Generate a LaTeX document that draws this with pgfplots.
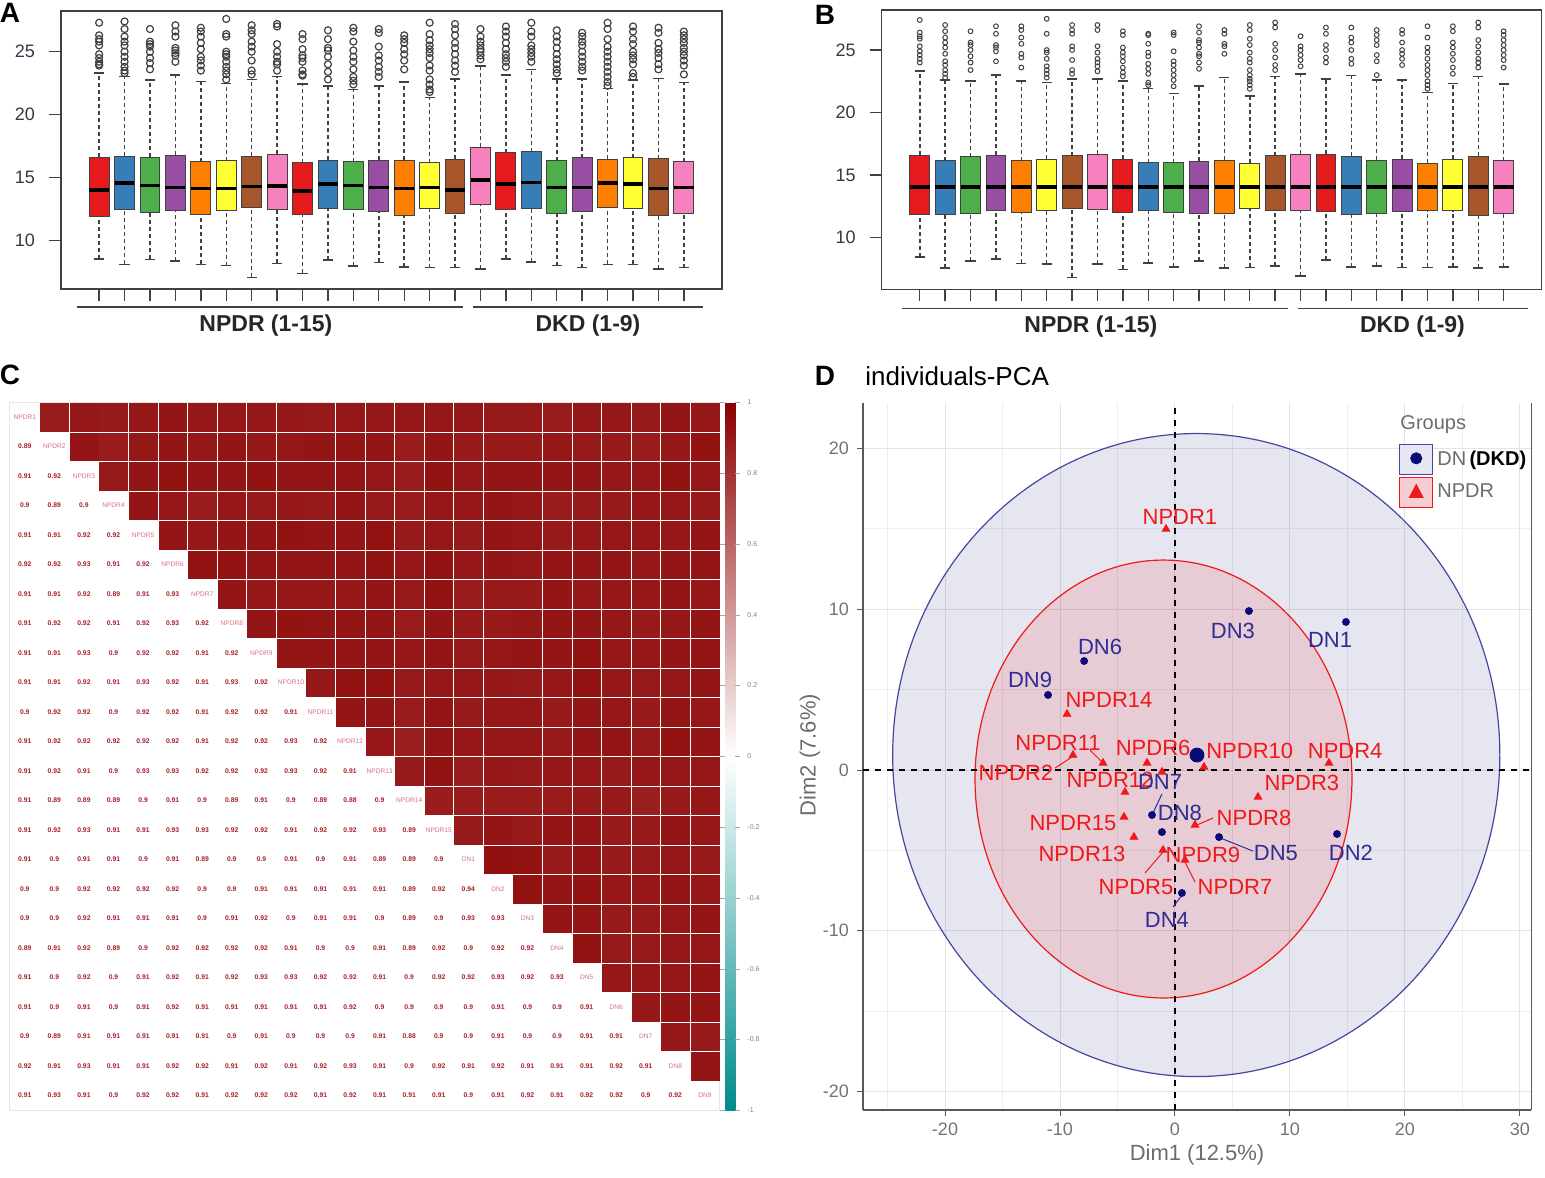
\documentclass[border=0pt]{standalone}
\usepackage{fontspec}
\setmainfont{Liberation Sans}
\usepackage{pgfplots}
\usepackage{pgfplotstable}
\pgfplotsset{compat=1.18}
\usepgfplotslibrary{statistics}

\definecolor{cR}{HTML}{E41A1C}
\definecolor{cB}{HTML}{377EB8}
\definecolor{cG}{HTML}{4DAF4A}
\definecolor{cP}{HTML}{984EA3}
\definecolor{cO}{HTML}{FF7F00}
\definecolor{cY}{HTML}{FFFF33}
\definecolor{cBr}{HTML}{A65628}
\definecolor{cPk}{HTML}{F781BF}
\definecolor{bxgray}{RGB}{65,65,65}
\definecolor{tkgray}{RGB}{55,55,70}
\definecolor{dnnavy}{RGB}{10,10,120}
\definecolor{dnlab}{RGB}{45,45,150}
\definecolor{dnbord}{RGB}{70,70,160}
\definecolor{dnfill}{RGB}{230,230,243}
\definecolor{npred}{RGB}{240,25,25}
\definecolor{npfill}{RGB}{247,205,212}
\definecolor{cellred}{RGB}{170,30,40}
\definecolor{diagpink}{RGB}{215,110,130}
\definecolor{gridc}{RGB}{225,232,236}
\definecolor{gmaj}{RGB}{228,228,228}
\definecolor{gmin}{RGB}{238,238,238}

\pgfplotsset{
  rbox/.style={
    scale only axis, anchor=north west,
    xmin=-0.5, xmax=25.5,
    xtick={1,...,24}, xticklabels={},
    ytick={10,15,20,25},
    tick align=outside, xtick pos=left, ytick pos=left,
    major tick length=6pt,
    axis line style={bxgray, line width=0.7pt},
    tick style={bxgray, line width=0.7pt},
    yticklabel style={font=\fontsize{9}{10}\selectfont, text=tkgray, xshift=-3.5pt},
    /pgf/number format/assume math mode=true,
    clip=false,
    boxplot/draw direction=y,
    boxplot/box extend=0.78,
    boxplot/whisker extend=0.4,
    boxplot/every box/.style={draw=bxgray, line width=0.5pt},
    boxplot/every median/.style={black, line width=1.8pt},
    boxplot/every whisker/.style={bxgray, line width=0.75pt},
    boxplot/draw/lower whisker/.code={%
      \draw[/pgfplots/boxplot/every whisker/.try, dash pattern=on 2pt off 1.5pt]
        (boxplot box cs:\pgfplotsboxplotvalue{lower whisker},0.5) --
        (boxplot box cs:\pgfplotsboxplotvalue{lower quartile},0.5);
      \draw[/pgfplots/boxplot/every whisker/.try]
        (boxplot whisker cs:\pgfplotsboxplotvalue{lower whisker},0) --
        (boxplot whisker cs:\pgfplotsboxplotvalue{lower whisker},1);
    },
    boxplot/draw/upper whisker/.code={%
      \draw[/pgfplots/boxplot/every whisker/.try, dash pattern=on 2pt off 1.5pt]
        (boxplot box cs:\pgfplotsboxplotvalue{upper quartile},0.5) --
        (boxplot box cs:\pgfplotsboxplotvalue{upper whisker},0.5);
      \draw[/pgfplots/boxplot/every whisker/.try]
        (boxplot whisker cs:\pgfplotsboxplotvalue{upper whisker},0) --
        (boxplot whisker cs:\pgfplotsboxplotvalue{upper whisker},1);
    },
  },
  bx/.style={boxplot/every box/.append style={fill=#1}},
  outA/.style={mark=o, mark size=1.75pt, mark options={draw=bxgray, line width=0.6pt, solid}},
  outB/.style={mark=o, mark size=1.2pt, mark options={draw=bxgray, line width=0.5pt, solid}},
}

\pgfplotstableread[row sep=\\]{
i j r\\
2 1 0.89\\
3 1 0.91\\ 3 2 0.92\\
4 1 0.9\\ 4 2 0.89\\ 4 3 0.9\\
5 1 0.91\\ 5 2 0.91\\ 5 3 0.92\\ 5 4 0.92\\
6 1 0.92\\ 6 2 0.92\\ 6 3 0.93\\ 6 4 0.91\\ 6 5 0.92\\
7 1 0.91\\ 7 2 0.91\\ 7 3 0.92\\ 7 4 0.89\\ 7 5 0.91\\ 7 6 0.93\\
8 1 0.91\\ 8 2 0.92\\ 8 3 0.92\\ 8 4 0.91\\ 8 5 0.92\\ 8 6 0.93\\ 8 7 0.92\\
9 1 0.91\\ 9 2 0.91\\ 9 3 0.93\\ 9 4 0.9\\ 9 5 0.92\\ 9 6 0.92\\ 9 7 0.91\\ 9 8 0.92\\
10 1 0.91\\ 10 2 0.91\\ 10 3 0.92\\ 10 4 0.91\\ 10 5 0.93\\ 10 6 0.92\\ 10 7 0.91\\ 10 8 0.93\\ 10 9 0.92\\
11 1 0.9\\ 11 2 0.92\\ 11 3 0.92\\ 11 4 0.9\\ 11 5 0.92\\ 11 6 0.92\\ 11 7 0.91\\ 11 8 0.92\\ 11 9 0.92\\ 11 10 0.91\\
12 1 0.91\\ 12 2 0.92\\ 12 3 0.92\\ 12 4 0.92\\ 12 5 0.92\\ 12 6 0.92\\ 12 7 0.91\\ 12 8 0.92\\ 12 9 0.92\\ 12 10 0.93\\ 12 11 0.92\\
13 1 0.91\\ 13 2 0.92\\ 13 3 0.91\\ 13 4 0.9\\ 13 5 0.93\\ 13 6 0.93\\ 13 7 0.92\\ 13 8 0.92\\ 13 9 0.92\\ 13 10 0.93\\ 13 11 0.92\\ 13 12 0.91\\
14 1 0.91\\ 14 2 0.89\\ 14 3 0.89\\ 14 4 0.89\\ 14 5 0.9\\ 14 6 0.91\\ 14 7 0.9\\ 14 8 0.89\\ 14 9 0.91\\ 14 10 0.9\\ 14 11 0.89\\ 14 12 0.88\\ 14 13 0.9\\
15 1 0.91\\ 15 2 0.92\\ 15 3 0.93\\ 15 4 0.91\\ 15 5 0.91\\ 15 6 0.93\\ 15 7 0.93\\ 15 8 0.92\\ 15 9 0.92\\ 15 10 0.91\\ 15 11 0.92\\ 15 12 0.92\\ 15 13 0.93\\ 15 14 0.89\\
16 1 0.91\\ 16 2 0.9\\ 16 3 0.91\\ 16 4 0.91\\ 16 5 0.9\\ 16 6 0.91\\ 16 7 0.89\\ 16 8 0.9\\ 16 9 0.9\\ 16 10 0.91\\ 16 11 0.9\\ 16 12 0.91\\ 16 13 0.89\\ 16 14 0.89\\ 16 15 0.9\\
17 1 0.9\\ 17 2 0.9\\ 17 3 0.92\\ 17 4 0.92\\ 17 5 0.92\\ 17 6 0.92\\ 17 7 0.9\\ 17 8 0.9\\ 17 9 0.91\\ 17 10 0.91\\ 17 11 0.91\\ 17 12 0.91\\ 17 13 0.91\\ 17 14 0.89\\ 17 15 0.92\\ 17 16 0.94\\
18 1 0.9\\ 18 2 0.9\\ 18 3 0.92\\ 18 4 0.91\\ 18 5 0.91\\ 18 6 0.91\\ 18 7 0.9\\ 18 8 0.91\\ 18 9 0.92\\ 18 10 0.9\\ 18 11 0.91\\ 18 12 0.91\\ 18 13 0.9\\ 18 14 0.89\\ 18 15 0.9\\ 18 16 0.93\\ 18 17 0.93\\
19 1 0.89\\ 19 2 0.91\\ 19 3 0.92\\ 19 4 0.89\\ 19 5 0.9\\ 19 6 0.92\\ 19 7 0.92\\ 19 8 0.92\\ 19 9 0.92\\ 19 10 0.91\\ 19 11 0.9\\ 19 12 0.9\\ 19 13 0.91\\ 19 14 0.89\\ 19 15 0.92\\ 19 16 0.9\\ 19 17 0.92\\ 19 18 0.92\\
20 1 0.91\\ 20 2 0.9\\ 20 3 0.92\\ 20 4 0.9\\ 20 5 0.91\\ 20 6 0.92\\ 20 7 0.91\\ 20 8 0.92\\ 20 9 0.93\\ 20 10 0.93\\ 20 11 0.92\\ 20 12 0.92\\ 20 13 0.91\\ 20 14 0.9\\ 20 15 0.92\\ 20 16 0.92\\ 20 17 0.93\\ 20 18 0.92\\ 20 19 0.93\\
21 1 0.91\\ 21 2 0.9\\ 21 3 0.91\\ 21 4 0.9\\ 21 5 0.91\\ 21 6 0.92\\ 21 7 0.91\\ 21 8 0.91\\ 21 9 0.91\\ 21 10 0.91\\ 21 11 0.91\\ 21 12 0.92\\ 21 13 0.9\\ 21 14 0.9\\ 21 15 0.9\\ 21 16 0.9\\ 21 17 0.91\\ 21 18 0.9\\ 21 19 0.9\\ 21 20 0.91\\
22 1 0.9\\ 22 2 0.89\\ 22 3 0.91\\ 22 4 0.91\\ 22 5 0.91\\ 22 6 0.91\\ 22 7 0.91\\ 22 8 0.9\\ 22 9 0.91\\ 22 10 0.9\\ 22 11 0.9\\ 22 12 0.9\\ 22 13 0.91\\ 22 14 0.88\\ 22 15 0.9\\ 22 16 0.9\\ 22 17 0.91\\ 22 18 0.9\\ 22 19 0.9\\ 22 20 0.91\\ 22 21 0.91\\
23 1 0.92\\ 23 2 0.91\\ 23 3 0.93\\ 23 4 0.91\\ 23 5 0.91\\ 23 6 0.92\\ 23 7 0.92\\ 23 8 0.91\\ 23 9 0.92\\ 23 10 0.91\\ 23 11 0.92\\ 23 12 0.93\\ 23 13 0.91\\ 23 14 0.9\\ 23 15 0.92\\ 23 16 0.91\\ 23 17 0.92\\ 23 18 0.91\\ 23 19 0.91\\ 23 20 0.91\\ 23 21 0.92\\ 23 22 0.91\\
24 1 0.91\\ 24 2 0.93\\ 24 3 0.91\\ 24 4 0.9\\ 24 5 0.92\\ 24 6 0.92\\ 24 7 0.91\\ 24 8 0.92\\ 24 9 0.92\\ 24 10 0.92\\ 24 11 0.91\\ 24 12 0.92\\ 24 13 0.91\\ 24 14 0.91\\ 24 15 0.91\\ 24 16 0.9\\ 24 17 0.91\\ 24 18 0.92\\ 24 19 0.91\\ 24 20 0.92\\ 24 21 0.92\\ 24 22 0.9\\ 24 23 0.92\\
}\corrtab

\pgfplotstableread[row sep=\\]{
k name\\
1 NPDR1\\ 2 NPDR2\\ 3 NPDR3\\ 4 NPDR4\\ 5 NPDR5\\ 6 NPDR6\\ 7 NPDR7\\ 8 NPDR8\\
9 NPDR9\\ 10 NPDR10\\ 11 NPDR11\\ 12 NPDR12\\ 13 NPDR13\\ 14 NPDR14\\ 15 NPDR15\\
16 DN1\\ 17 DN2\\ 18 DN3\\ 19 DN4\\ 20 DN5\\ 21 DN6\\ 22 DN7\\ 23 DN8\\ 24 DN9\\
}\diagtab

\begin{document}
\begin{tikzpicture}
\path[use as bounding box] (0,0) rectangle (772.5pt,-588.5pt);

% ---------------- Panel A ----------------
\begin{axis}[rbox, at={(30.5pt,-5.5pt)}, width=330.5pt, height=139pt, ymin=6.17, ymax=28.23]
\addplot[bx=cR, outA, boxplot prepared={draw position=1, median=14.02, lower quartile=11.96, upper quartile=16.62, lower whisker=8.57, upper whisker=23.33}] table[row sep=\\, y index=0]{data\\27.3\\26.3\\26.0\\25.8\\25.5\\24.8\\24.5\\24.2\\24.0\\23.9\\};
\addplot[bx=cB, outA, boxplot prepared={draw position=2, median=14.56, lower quartile=12.44, upper quartile=16.72, lower whisker=8.13, upper whisker=23.02}] table[row sep=\\, y index=0]{data\\27.4\\26.8\\26.2\\25.8\\25.5\\25.0\\24.6\\24.2\\23.8\\23.5\\23.3\\};
\addplot[bx=cG, outA, boxplot prepared={draw position=3, median=14.37, lower quartile=12.28, upper quartile=16.62, lower whisker=8.52, upper whisker=22.75}] table[row sep=\\, y index=0]{data\\26.8\\25.8\\25.6\\25.4\\25.0\\24.5\\24.1\\23.6\\};
\addplot[bx=cP, outA, boxplot prepared={draw position=4, median=14.24, lower quartile=12.36, upper quartile=16.8, lower whisker=8.41, upper whisker=23.15}] table[row sep=\\, y index=0]{data\\27.1\\26.6\\26.2\\25.3\\25.1\\24.9\\24.7\\24.2\\};
\addplot[bx=cO, outA, boxplot prepared={draw position=5, median=14.16, lower quartile=12.1, upper quartile=16.27, lower whisker=8.13, upper whisker=22.62}] table[row sep=\\, y index=0]{data\\26.9\\26.6\\26.2\\25.7\\25.2\\24.6\\24.3\\23.9\\23.5\\};
\addplot[bx=cY, outA, boxplot prepared={draw position=6, median=14.16, lower quartile=12.38, upper quartile=16.35, lower whisker=8.02, upper whisker=22.49}] table[row sep=\\, y index=0]{data\\27.6\\26.4\\26.2\\25.0\\24.8\\24.6\\24.2\\23.8\\23.5\\23.2\\22.8\\};
\addplot[bx=cBr, outA, boxplot prepared={draw position=7, median=14.29, lower quartile=12.65, upper quartile=16.72, lower whisker=7.1, upper whisker=22.81}] table[row sep=\\, y index=0]{data\\27.1\\26.7\\26.4\\25.8\\25.4\\25.0\\24.3\\23.5\\23.2\\};
\addplot[bx=cPk, outA, boxplot prepared={draw position=8, median=14.34, lower quartile=12.49, upper quartile=16.88, lower whisker=8.21, upper whisker=23.02}] table[row sep=\\, y index=0]{data\\27.2\\27.0\\25.6\\25.0\\24.6\\24.2\\24.0\\23.5\\};
\addplot[bx=cR, outA, boxplot prepared={draw position=9, median=13.97, lower quartile=12.12, upper quartile=16.19, lower whisker=7.41, upper whisker=22.44}] table[row sep=\\, y index=0]{data\\26.4\\26.0\\25.2\\24.7\\24.5\\24.2\\23.5\\23.2\\23.1\\};
\addplot[bx=cB, outA, boxplot prepared={draw position=10, median=14.48, lower quartile=12.52, upper quartile=16.4, lower whisker=8.47, upper whisker=22.28}] table[row sep=\\, y index=0]{data\\26.7\\26.0\\25.3\\25.1\\24.6\\24.0\\23.4\\22.8\\};
\addplot[bx=cG, outA, boxplot prepared={draw position=11, median=14.37, lower quartile=12.44, upper quartile=16.27, lower whisker=8.0, upper whisker=22.01}] table[row sep=\\, y index=0]{data\\26.9\\26.6\\25.8\\25.1\\24.6\\24.2\\23.6\\23.0\\22.7\\22.4\\};
\addplot[bx=cP, outA, boxplot prepared={draw position=12, median=14.24, lower quartile=12.3, upper quartile=16.4, lower whisker=8.29, upper whisker=22.28}] table[row sep=\\, y index=0]{data\\26.8\\26.5\\25.4\\24.7\\24.3\\23.8\\23.4\\23.0\\};
\addplot[bx=cO, outA, boxplot prepared={draw position=13, median=14.16, lower quartile=12.04, upper quartile=16.4, lower whisker=7.9, upper whisker=22.6}] table[row sep=\\, y index=0]{data\\26.3\\26.0\\25.7\\25.2\\24.8\\24.3\\23.6\\};
\addplot[bx=cY, outA, boxplot prepared={draw position=14, median=14.24, lower quartile=12.52, upper quartile=16.19, lower whisker=7.86, upper whisker=21.35}] table[row sep=\\, y index=0]{data\\27.3\\26.4\\25.9\\25.5\\25.2\\24.9\\24.5\\23.9\\23.5\\22.8\\22.4\\22.0\\21.8\\};
\addplot[bx=cBr, outA, boxplot prepared={draw position=15, median=14.02, lower quartile=12.17, upper quartile=16.46, lower whisker=7.86, upper whisker=22.83}] table[row sep=\\, y index=0]{data\\27.2\\26.8\\26.3\\25.7\\25.3\\24.8\\24.3\\23.9\\23.4\\};
\addplot[bx=cPk, outA, boxplot prepared={draw position=16, median=14.82, lower quartile=12.89, upper quartile=17.41, lower whisker=7.74, upper whisker=23.87}] table[row sep=\\, y index=0]{data\\26.8\\26.2\\25.8\\25.5\\25.2\\25.0\\24.7\\24.4\\};
\addplot[bx=cR, outA, boxplot prepared={draw position=17, median=14.48, lower quartile=12.49, upper quartile=16.98, lower whisker=8.55, upper whisker=23.15}] table[row sep=\\, y index=0]{data\\27.0\\26.6\\26.2\\25.7\\25.2\\24.8\\24.5\\24.2\\23.8\\};
\addplot[bx=cB, outA, boxplot prepared={draw position=18, median=14.63, lower quartile=12.57, upper quartile=17.06, lower whisker=8.33, upper whisker=23.6}] table[row sep=\\, y index=0]{data\\27.3\\26.6\\26.2\\25.5\\25.2\\24.9\\24.6\\24.2\\};
\addplot[bx=cG, outA, boxplot prepared={draw position=19, median=14.24, lower quartile=12.17, upper quartile=16.35, lower whisker=8.02, upper whisker=22.83}] table[row sep=\\, y index=0]{data\\26.7\\26.2\\25.8\\25.3\\24.8\\24.4\\24.0\\23.6\\23.3\\};
\addplot[bx=cP, outA, boxplot prepared={draw position=20, median=14.24, lower quartile=12.3, upper quartile=16.59, lower whisker=7.86, upper whisker=22.83}] table[row sep=\\, y index=0]{data\\26.5\\26.2\\25.8\\25.5\\25.0\\24.6\\24.2\\23.8\\23.5\\};
\addplot[bx=cO, outA, boxplot prepared={draw position=21, median=14.56, lower quartile=12.65, upper quartile=16.46, lower whisker=8.13, upper whisker=22.09}] table[row sep=\\, y index=0]{data\\27.3\\26.8\\26.0\\25.4\\25.0\\24.6\\24.2\\23.8\\23.4\\23.0\\22.6\\22.3\\};
\addplot[bx=cY, outA, boxplot prepared={draw position=22, median=14.48, lower quartile=12.52, upper quartile=16.59, lower whisker=8.13, upper whisker=22.75}] table[row sep=\\, y index=0]{data\\27.0\\26.6\\26.0\\25.6\\25.0\\24.7\\24.4\\24.0\\23.3\\23.0\\};
\addplot[bx=cBr, outA, boxplot prepared={draw position=23, median=14.16, lower quartile=12.04, upper quartile=16.49, lower whisker=7.74, upper whisker=22.89}] table[row sep=\\, y index=0]{data\\26.9\\26.5\\25.7\\25.2\\24.9\\24.5\\24.0\\23.6\\};
\addplot[bx=cPk, outA, boxplot prepared={draw position=24, median=14.24, lower quartile=12.17, upper quartile=16.27, lower whisker=7.86, upper whisker=22.54}] table[row sep=\\, y index=0]{data\\26.6\\26.3\\26.0\\25.7\\25.3\\25.0\\24.7\\24.3\\23.9\\23.2\\};
\draw[bxgray, line width=0.8pt] ([yshift=-8.85pt]axis cs:0.13,6.17) -- ([yshift=-8.85pt]axis cs:15.3,6.17);
\draw[bxgray, line width=0.8pt] ([yshift=-8.85pt]axis cs:15.7,6.17) -- ([yshift=-8.85pt]axis cs:24.74,6.17);
\node[font=\bfseries\fontsize{11.5}{12}\selectfont, text=black!85] at ([yshift=-18.5pt]axis cs:7.56,6.17) {NPDR (1-15)};
\node[font=\bfseries\fontsize{11.5}{12}\selectfont, text=black!85] at ([yshift=-18.5pt]axis cs:20.23,6.17) {DKD (1-9)};
\end{axis}

% ---------------- Panel B ----------------
\begin{axis}[rbox, at={(440.85pt,-5pt)}, width=330pt, height=139.65pt, ymin=5.88, ymax=28.2]
\addplot[bx=cR, outB, boxplot prepared={draw position=1, median=14.07, lower quartile=11.87, upper quartile=16.61, lower whisker=8.48, upper whisker=23.32}] table[row sep=\\, y index=0]{data\\27.4\\26.4\\26.1\\25.9\\25.3\\24.9\\24.6\\24.3\\24.0\\};
\addplot[bx=cB, outB, boxplot prepared={draw position=2, median=14.07, lower quartile=11.87, upper quartile=16.15, lower whisker=7.6, upper whisker=22.6}] table[row sep=\\, y index=0]{data\\27.0\\26.5\\26.0\\25.6\\25.2\\24.7\\24.1\\23.8\\23.4\\23.1\\22.8\\};
\addplot[bx=cG, outB, boxplot prepared={draw position=3, median=14.07, lower quartile=11.95, upper quartile=16.47, lower whisker=8.16, upper whisker=22.52}] table[row sep=\\, y index=0]{data\\26.5\\25.6\\25.4\\25.0\\24.5\\24.0\\23.4\\};
\addplot[bx=cP, outB, boxplot prepared={draw position=4, median=14.07, lower quartile=12.21, upper quartile=16.61, lower whisker=8.29, upper whisker=23.0}] table[row sep=\\, y index=0]{data\\26.9\\26.3\\25.4\\25.2\\24.9\\24.1\\};
\addplot[bx=cO, outB, boxplot prepared={draw position=5, median=14.07, lower quartile=12.03, upper quartile=16.15, lower whisker=7.95, upper whisker=22.52}] table[row sep=\\, y index=0]{data\\26.9\\26.6\\26.0\\25.5\\24.7\\24.4\\23.6\\};
\addplot[bx=cY, outB, boxplot prepared={draw position=6, median=14.07, lower quartile=12.21, upper quartile=16.29, lower whisker=7.9, upper whisker=22.42}] table[row sep=\\, y index=0]{data\\27.5\\26.3\\25.0\\24.8\\24.3\\23.7\\23.4\\23.1\\22.8\\};
\addplot[bx=cBr, outB, boxplot prepared={draw position=7, median=14.07, lower quartile=12.35, upper quartile=16.55, lower whisker=6.83, upper whisker=22.68}] table[row sep=\\, y index=0]{data\\27.0\\26.6\\26.3\\25.3\\25.0\\24.2\\23.4\\23.1\\};
\addplot[bx=cPk, outB, boxplot prepared={draw position=8, median=14.07, lower quartile=12.27, upper quartile=16.66, lower whisker=7.9, upper whisker=22.68}] table[row sep=\\, y index=0]{data\\27.0\\26.6\\25.3\\24.8\\24.3\\24.0\\23.7\\23.3\\};
\addplot[bx=cR, outB, boxplot prepared={draw position=9, median=14.07, lower quartile=12.03, upper quartile=16.29, lower whisker=7.47, upper whisker=22.52}] table[row sep=\\, y index=0]{data\\26.5\\26.2\\25.2\\24.8\\24.5\\24.1\\23.6\\23.2\\22.9\\};
\addplot[bx=cB, outB, boxplot prepared={draw position=10, median=14.07, lower quartile=12.21, upper quartile=16.0, lower whisker=8.0, upper whisker=21.94}] table[row sep=\\, y index=0]{data\\26.3\\26.2\\25.5\\24.8\\24.5\\23.9\\23.5\\23.1\\22.4\\22.2\\};
\addplot[bx=cG, outB, boxplot prepared={draw position=11, median=14.07, lower quartile=12.0, upper quartile=16.0, lower whisker=7.68, upper whisker=21.54}] table[row sep=\\, y index=0]{data\\26.4\\26.2\\24.9\\24.1\\23.8\\23.4\\23.0\\22.6\\22.1\\};
\addplot[bx=cP, outB, boxplot prepared={draw position=12, median=14.07, lower quartile=11.95, upper quartile=16.13, lower whisker=8.13, upper whisker=22.12}] table[row sep=\\, y index=0]{data\\26.9\\26.4\\25.8\\25.6\\25.2\\24.7\\24.5\\24.0\\23.5\\};
\addplot[bx=cO, outB, boxplot prepared={draw position=13, median=14.07, lower quartile=11.95, upper quartile=16.2, lower whisker=7.6, upper whisker=22.82}] table[row sep=\\, y index=0]{data\\26.6\\26.3\\25.5\\25.3\\24.7\\};
\addplot[bx=cY, outB, boxplot prepared={draw position=14, median=14.07, lower quartile=12.35, upper quartile=15.94, lower whisker=7.63, upper whisker=21.32}] table[row sep=\\, y index=0]{data\\27.0\\26.6\\25.9\\25.4\\24.8\\24.3\\24.0\\23.4\\23.0\\22.7\\22.5\\22.2\\21.9\\};
\addplot[bx=cBr, outB, boxplot prepared={draw position=15, median=14.07, lower quartile=12.16, upper quartile=16.55, lower whisker=7.76, upper whisker=22.87}] table[row sep=\\, y index=0]{data\\27.2\\26.8\\25.5\\25.0\\24.4\\23.8\\23.4\\};
\addplot[bx=cPk, outB, boxplot prepared={draw position=16, median=14.07, lower quartile=12.16, upper quartile=16.66, lower whisker=6.94, upper whisker=23.08}] table[row sep=\\, y index=0]{data\\26.1\\25.3\\25.0\\24.6\\24.2\\23.7\\};
\addplot[bx=cR, outB, boxplot prepared={draw position=17, median=14.07, lower quartile=12.08, upper quartile=16.66, lower whisker=8.21, upper whisker=22.68}] table[row sep=\\, y index=0]{data\\26.8\\26.3\\25.4\\25.0\\24.4\\24.0\\};
\addplot[bx=cB, outB, boxplot prepared={draw position=18, median=14.07, lower quartile=11.87, upper quartile=16.53, lower whisker=7.68, upper whisker=22.95}] table[row sep=\\, y index=0]{data\\26.8\\26.0\\25.6\\25.0\\24.3\\23.9\\};
\addplot[bx=cG, outB, boxplot prepared={draw position=19, median=14.07, lower quartile=11.95, upper quartile=16.2, lower whisker=7.76, upper whisker=22.6}] table[row sep=\\, y index=0]{data\\26.6\\26.2\\25.8\\25.4\\24.6\\24.1\\23.0\\};
\addplot[bx=cP, outB, boxplot prepared={draw position=20, median=14.07, lower quartile=12.08, upper quartile=16.29, lower whisker=7.63, upper whisker=22.6}] table[row sep=\\, y index=0]{data\\26.6\\26.3\\25.6\\25.0\\24.7\\24.3\\23.8\\};
\addplot[bx=cO, outB, boxplot prepared={draw position=21, median=14.07, lower quartile=12.16, upper quartile=15.94, lower whisker=7.63, upper whisker=21.62}] table[row sep=\\, y index=0]{data\\26.9\\26.0\\25.2\\24.8\\24.3\\23.8\\23.4\\23.0\\22.5\\22.2\\21.9\\};
\addplot[bx=cY, outB, boxplot prepared={draw position=22, median=14.07, lower quartile=12.16, upper quartile=16.26, lower whisker=7.68, upper whisker=22.34}] table[row sep=\\, y index=0]{data\\26.9\\26.5\\25.6\\25.2\\24.7\\24.2\\23.6\\23.1\\};
\addplot[bx=cBr, outB, boxplot prepared={draw position=23, median=14.07, lower quartile=11.81, upper quartile=16.53, lower whisker=7.6, upper whisker=22.87}] table[row sep=\\, y index=0]{data\\27.2\\26.8\\25.8\\25.3\\24.8\\24.3\\24.0\\23.6\\};
\addplot[bx=cPk, outB, boxplot prepared={draw position=24, median=14.07, lower quartile=11.95, upper quartile=16.15, lower whisker=7.68, upper whisker=22.28}] table[row sep=\\, y index=0]{data\\26.5\\26.2\\25.8\\25.4\\25.0\\24.6\\24.2\\23.6\\};
\draw[bxgray, line width=0.8pt] ([yshift=-9.5pt]axis cs:0.29,5.88) -- ([yshift=-9.5pt]axis cs:15.5,5.88);
\draw[bxgray, line width=0.8pt] ([yshift=-9.5pt]axis cs:15.91,5.88) -- ([yshift=-9.5pt]axis cs:24.95,5.88);
\node[font=\bfseries\fontsize{11.5}{12}\selectfont, text=black!85] at ([yshift=-18.6pt]axis cs:7.74,5.88) {NPDR (1-15)};
\node[font=\bfseries\fontsize{11.5}{12}\selectfont, text=black!85] at ([yshift=-18.6pt]axis cs:20.41,5.88) {DKD (1-9)};
\end{axis}

% ---------------- Panel C ----------------
\begin{axis}[at={(5pt,-201.15pt)}, anchor=north west, scale only axis,
  width=354.85pt, height=354pt,
  xmin=0.5, xmax=24.5, ymin=0.5, ymax=24.5, y dir=reverse,
  xtick=\empty, ytick=\empty,
  minor xtick={1.5,2.5,...,23.5}, minor ytick={1.5,2.5,...,23.5},
  minor tick length=0pt, xminorgrids=true, yminorgrids=true,
  minor grid style={draw=gridc, line width=0.5pt},
  axis line style={draw=gridc, line width=0.5pt},
  colormap={corr}{rgb255=(0,139,139) rgb255=(255,255,255) rgb255=(139,0,0)},
  point meta min=-1, point meta max=1,
  colorbar,
  colorbar shift/.style={xshift=2.6pt},
  colorbar style={
    width=5pt,
    ytick={-1,-0.8,-0.6,-0.4,-0.2,0,0.2,0.4,0.6,0.8,1},
    yticklabels={-1,-0.8,-0.6,-0.4,-0.2,0,0.2,0.4,0.6,0.8,1},
    yticklabel style={font=\fontsize{3.5}{4}\selectfont, text=gray},
    major tick length=2.5pt, tick style={gray!70},
    axis line style={draw=none}, tick align=outside,
  },
  clip=false,
]
\addplot[scatter, only marks, mark=square*, mark size=6.9pt,
  scatter/use mapped color={draw=mapped color, fill=mapped color},
  mark options={line width=0.2pt}, point meta=explicit]
  table[x=i, y=j, meta=r] {\corrtab};
\addplot[only marks, mark=*, mark size=0pt, mark options={draw=none, fill=none},
  point meta=explicit symbolic, nodes near coords,
  every node near coord/.append style={anchor=center, inner sep=0pt, font=\bfseries\fontsize{3.4}{4}\selectfont, text=cellred}]
  table[x=j, y=i, meta=r] {\corrtab};
\addplot[only marks, mark=*, mark size=0pt, mark options={draw=none, fill=none},
  point meta=explicit symbolic, nodes near coords,
  every node near coord/.append style={anchor=center, inner sep=0pt, font=\fontsize{3.3}{4}\selectfont, text=diagpink}]
  table[x=k, y=k, meta=name] {\diagtab};
\end{axis}

% ---------------- Panel D ----------------
\begin{axis}[at={(431.5pt,-201.5pt)}, anchor=north west, scale only axis,
  width=334pt, height=353.5pt,
  xmin=-27.13, xmax=30.96, ymin=-21.15, ymax=22.83,
  axis x line*=bottom, axis y line*=left,
  xtick={-20,-10,0,10,20,30}, ytick={-20,-10,0,10,20},
  minor xtick={-25,-15,-5,5,15,25}, minor ytick={-15,-5,5,15},
  xmajorgrids=true, ymajorgrids=true, xminorgrids=true, yminorgrids=true,
  major grid style={draw=gmaj, line width=0.5pt},
  minor grid style={draw=gmin, line width=0.4pt},
  tick align=outside, major tick length=3pt, minor tick length=0pt,
  tick style={draw=gray!70!black, line width=0.5pt},
  axis line style={draw=gray!70!black, line width=0.6pt},
  xticklabel style={font=\fontsize{9}{10}\selectfont, text=gray!90!black, yshift=0pt},
  yticklabel style={font=\fontsize{9}{10}\selectfont, text=gray!90!black, xshift=-0.5pt},
  /pgf/number format/assume math mode=true,
  clip=false,
  legend style={at={(0.802,0.943)}, anchor=north west, draw=none, fill=none,
    font=\fontsize{10}{12}\selectfont, text=gray!85!black, row sep=1pt, inner sep=0pt},
  legend cell align=left,
]
\draw[draw=dnbord, line width=0.6pt, fill=dnnavy, fill opacity=0.1] (axis cs:1.85,0.93) ellipse [x radius=26.4, y radius=20.0];
\draw[draw=npred, line width=0.6pt, fill=npred, fill opacity=0.13] (axis cs:-1.0,-0.56) ellipse [x radius=16.39, y radius=13.62];
\draw[gray!70!black, line width=0.4pt] (rel axis cs:1,0) -- (rel axis cs:1,1);
\addplot[forget plot, black, dashed, line width=0.6pt] coordinates {(0,-21.15) (0,22.83)};
\addplot[forget plot, black, dashed, line width=0.6pt] coordinates {(-27.13,0) (30.96,0)};
% connectors
\draw[npred, line width=0.5pt] (axis cs:-10.43,0.12) -- (axis cs:-8.96,0.81);
\draw[npred, line width=0.5pt] (axis cs:-7.39,1.24) -- (axis cs:-6.26,0.44);
\draw[dnlab, line width=0.5pt] (axis cs:-1.13,-1.49) -- (axis cs:-2.0,-2.8);
\draw[npred, line width=0.5pt] (axis cs:3.3,-2.99) -- (axis cs:1.91,-3.42);
\draw[dnlab, line width=0.5pt] (axis cs:3.74,-4.17) -- (axis cs:6.78,-5.04);
\draw[npred, line width=0.5pt] (axis cs:-2.61,-6.41) -- (axis cs:-1.04,-5.1);
\draw[npred, line width=0.5pt] (axis cs:1.74,-6.97) -- (axis cs:0.87,-5.72);
\draw[dnlab, line width=0.5pt] (axis cs:-0.17,-8.52) -- (axis cs:0.61,-7.78);
% points
\addplot[forget plot, only marks, mark=*, mark size=1.75pt, color=dnnavy] coordinates {
(14.87,9.21) (14.09,-3.98) (6.43,9.89) (0.6,-7.65) (3.83,-4.17) (-7.9,6.78) (-2.0,-2.8) (-1.13,-3.86) (-11.04,4.67)};
\addplot[forget plot, only marks, mark=triangle*, mark size=2.2pt, color=npred] coordinates {
(-0.78,14.99) (-8.87,0.93) (7.22,-1.68) (13.39,0.44) (-1.04,-4.98) (-2.43,0.44) (0.87,-5.6) (1.74,-3.42)
(-1.13,-0.12) (2.52,0.19) (-6.26,0.44) (-4.35,-1.37) (-3.57,-4.17) (-9.39,3.48) (-4.43,-2.92)};
\addplot[forget plot, only marks, mark=*, mark size=3.5pt, color=dnnavy] coordinates {(1.91,0.93)};
% labels
\begin{scope}[every node/.style={font=\fontsize{11}{12}\selectfont, inner sep=0pt}]
\node[text=npred] at (axis cs:0.43,15.74) {NPDR1};
\node[text=dnlab] at (axis cs:5.04,8.65) {DN3};
\node[text=dnlab] at (axis cs:13.48,8.09) {DN1};
\node[text=dnlab] at (axis cs:-6.52,7.65) {DN6};
\node[text=dnlab] at (axis cs:-12.6,5.6) {DN9};
\node[text=npred] at (axis cs:-5.74,4.35) {NPDR14};
\node[text=npred] at (axis cs:-10.17,1.68) {NPDR11};
\node[text=npred] at (axis cs:-1.9,1.37) {NPDR6};
\node[text=npred] at (axis cs:6.5,1.18) {NPDR10};
\node[text=npred] at (axis cs:14.8,1.18) {NPDR4};
\node[text=npred] at (axis cs:-13.83,-0.19) {NPDR2};
\node[text=npred] at (axis cs:-5.65,-0.62) {NPDR12};
\node[text=dnlab] at (axis cs:-1.3,-0.75) {DN7};
\node[text=npred] at (axis cs:11.04,-0.81) {NPDR3};
\node[text=dnlab] at (axis cs:0.43,-2.67) {DN8};
\node[text=npred] at (axis cs:-8.87,-3.3) {NPDR15};
\node[text=npred] at (axis cs:6.87,-2.99) {NPDR8};
\node[text=npred] at (axis cs:-8.09,-5.23) {NPDR13};
\node[text=npred] at (axis cs:2.43,-5.29) {NPDR9};
\node[text=dnlab] at (axis cs:8.78,-5.16) {DN5};
\node[text=dnlab] at (axis cs:15.3,-5.16) {DN2};
\node[text=npred] at (axis cs:-3.39,-7.28) {NPDR5};
\node[text=npred] at (axis cs:5.22,-7.28) {NPDR7};
\node[text=dnlab] at (axis cs:-0.7,-9.33) {DN4};
\end{scope}
\node[font=\fontsize{11}{12}\selectfont, text=gray!85!black] at (rel axis cs:0.5,-0.0637) {Dim1 (12.5\%)};
\node[font=\fontsize{11}{12}\selectfont, text=gray!85!black, rotate=90] at (rel axis cs:-0.0793,0.502) {Dim2 (7.6\%)};
\node[anchor=west, font=\fontsize{10}{12}\selectfont, text=gray!85!black, inner sep=0pt] at (rel axis cs:0.804,0.970) {Groups};
\addlegendimage{legend image code/.code={\draw[draw=dnbord, fill=dnfill, line width=0.6pt] (0pt,-7.5pt) rectangle (16.5pt,7.5pt); \fill[dnnavy] (8.25pt,0.5pt) circle (2.8pt);}}
\addlegendentry{DN\,\textbf{\color{black}(DKD)}}
\addlegendimage{legend image code/.code={\draw[draw=npred, fill=npfill, line width=0.6pt] (0pt,-7.5pt) rectangle (16.5pt,7.5pt); \fill[npred] (8.25pt,4pt) -- (4.8pt,-2.5pt) -- (11.7pt,-2.5pt) -- cycle;}}
\addlegendentry{NPDR}
\end{axis}

% panel letters and title
\node[font=\bfseries\fontsize{14}{16}\selectfont] at (5pt,-6.5pt) {A};
\node[font=\bfseries\fontsize{14}{16}\selectfont] at (412.5pt,-7.5pt) {B};
\node[font=\bfseries\fontsize{14}{16}\selectfont] at (5pt,-187.5pt) {C};
\node[font=\bfseries\fontsize{14}{16}\selectfont] at (412.5pt,-188pt) {D};
\node[anchor=west, font=\fontsize{13}{15}\selectfont, inner sep=0pt] at (432.5pt,-188pt) {individuals-PCA};
\end{tikzpicture}
\end{document}
